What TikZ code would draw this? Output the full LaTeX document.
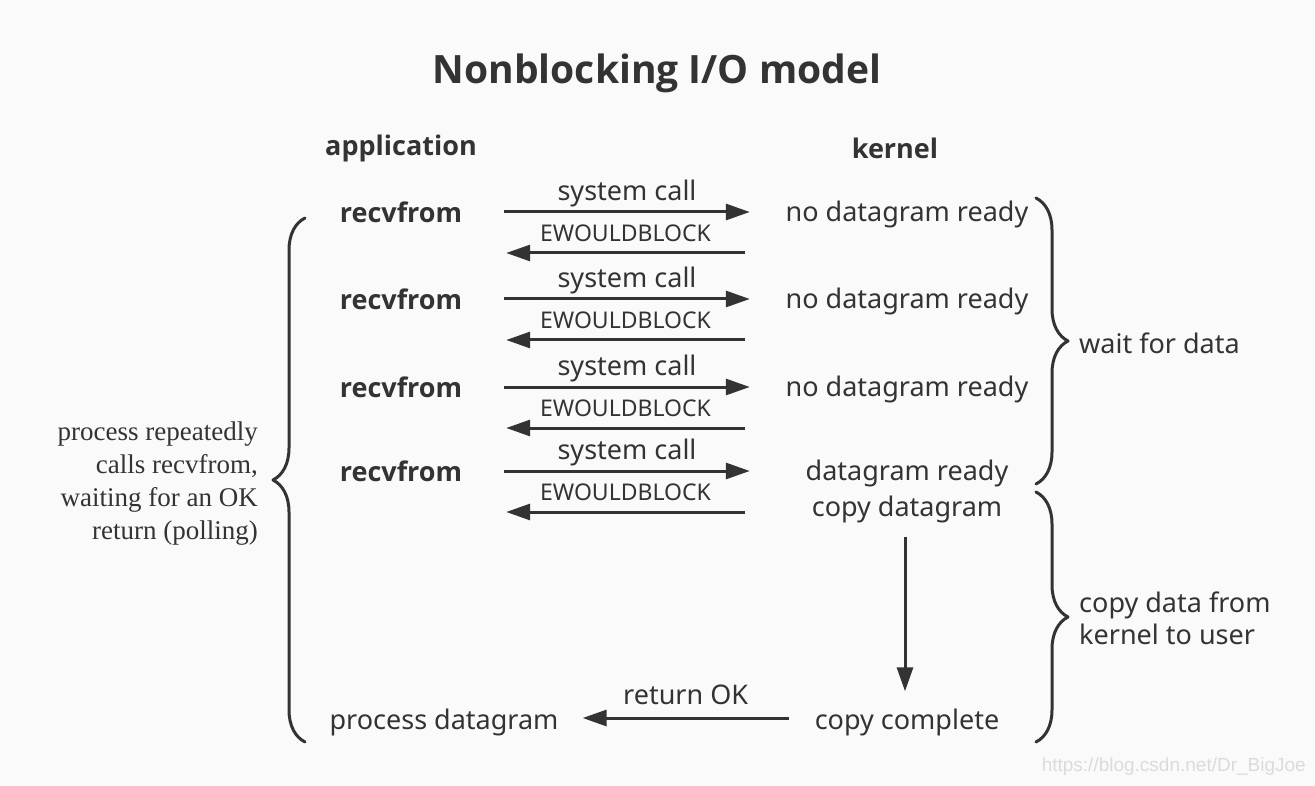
\documentclass[tikz,border=0pt]{standalone}
\usepackage{fontspec}
\setmainfont{Noto Sans}
\IfFontExistsTF{Open Sans Bold}
    {\newfontfamily\boldsans{Open Sans Bold}}
    {\IfFontExistsTF{Noto Sans Bold}
        {\newfontfamily\boldsans{Noto Sans Bold}}
        {\newfontfamily\boldsans{Noto Sans}[FakeBold=4]}}
\newfontfamily\timesfont{Liberation Serif}
\newfontfamily\markfont{Liberation Sans}
\usetikzlibrary{arrows.meta, decorations.pathreplacing}
\definecolor{ink}{HTML}{333333}
\definecolor{paper}{HTML}{FAFAFA}
\tikzset{
    txt/.style = {inner sep=0pt, text=ink, font=\fontsize{27}{32}\selectfont},
    head/.style = {txt, font=\boldsans\fontsize{27}{32}\selectfont},
    app/.style = {head, minimum width=130pt},
    kern/.style = {txt, minimum width=250pt},
    small/.style = {txt, font=\fontsize{23}{28}\selectfont},
    msg/.style = {draw=ink, line width=3pt, -{Triangle[length=24pt, width=16pt]}},
    curly/.style = {draw=ink, line width=3pt, line cap=round, line join=round,
        decorate, decoration={brace, amplitude=32pt}}
}

\begin{document}
\begin{tikzpicture}[x=1pt, y=-1pt]
        \path[fill=paper] (0, 0) rectangle (1315, 786);
        \node[head, font=\boldsans\fontsize{39}{44}\selectfont] (title) at (657, 73) {Nonblocking I/O model};
        \node[head] (app) at (401, 148) {application};
        \node[head] (kernel) at (895, 148) {kernel};
        % polling rounds
        \foreach \i/\y/\state in {1/212/no datagram ready, 2/299/no datagram ready, 3/387/no datagram ready, 4/471/datagram ready} {
            \node[app] (r\i) at (401, \y) {recvfrom};
            \node[kern] (k\i) at (907, \y+2) {\state};
            \path[msg] ([xshift=38pt]r\i.east) -- node[txt, above=4pt] {system call} ([xshift=-32pt]r\i.east -| k\i.west);
            \path[msg] ([shift={(-37pt, 41)}]r\i.east -| k\i.west) -- node[small, above=10pt] {EWOULDBLOCK} ([shift={(40pt, 41)}]r\i.east);
        }
        \node[kern] (cd) at (907, 509) {copy datagram};
        \node[txt] (cc) at (907, 722) {copy complete};
        \node[txt] (pd) at (444, 722) {process datagram};
        \path[msg, shorten <=14pt, shorten >=17pt] ([xshift=-2pt]cd.south) -- ([xshift=-2pt]cc.north);
        \path[msg] ([shift={(-26pt, -4)}]cc.west) -- node[txt, above=12pt] {return OK} ([shift={(24pt, -4)}]pd.east);
        % braces and their notes
        \path[curly] (305, 742) -- (305, 218);
        \node[txt, font=\timesfont\fontsize{27}{33}\selectfont, align=right, anchor=east] (poll) at (258, 484)
            {process repeatedly\\calls recvfrom,\\waiting for an OK\\return (polling)\hspace{7pt}};
        \path[curly] (1036, 198) -- (1036, 484);
        \node[txt, anchor=west] (wait) at (1079, 343) {wait for data};
        \path[curly] (1036, 492) -- (1036, 742);
        \node[txt, anchor=west, align=left] (copy) at (1079, 618) {copy data from\\kernel to user};
        \node[anchor=east, inner sep=0pt, text=black!14, font=\markfont\fontsize{19}{22}\selectfont] (mark) at (1306, 767) {https://blog.csdn.net/Dr\_BigJoe};
    \end{tikzpicture}
\end{document}
